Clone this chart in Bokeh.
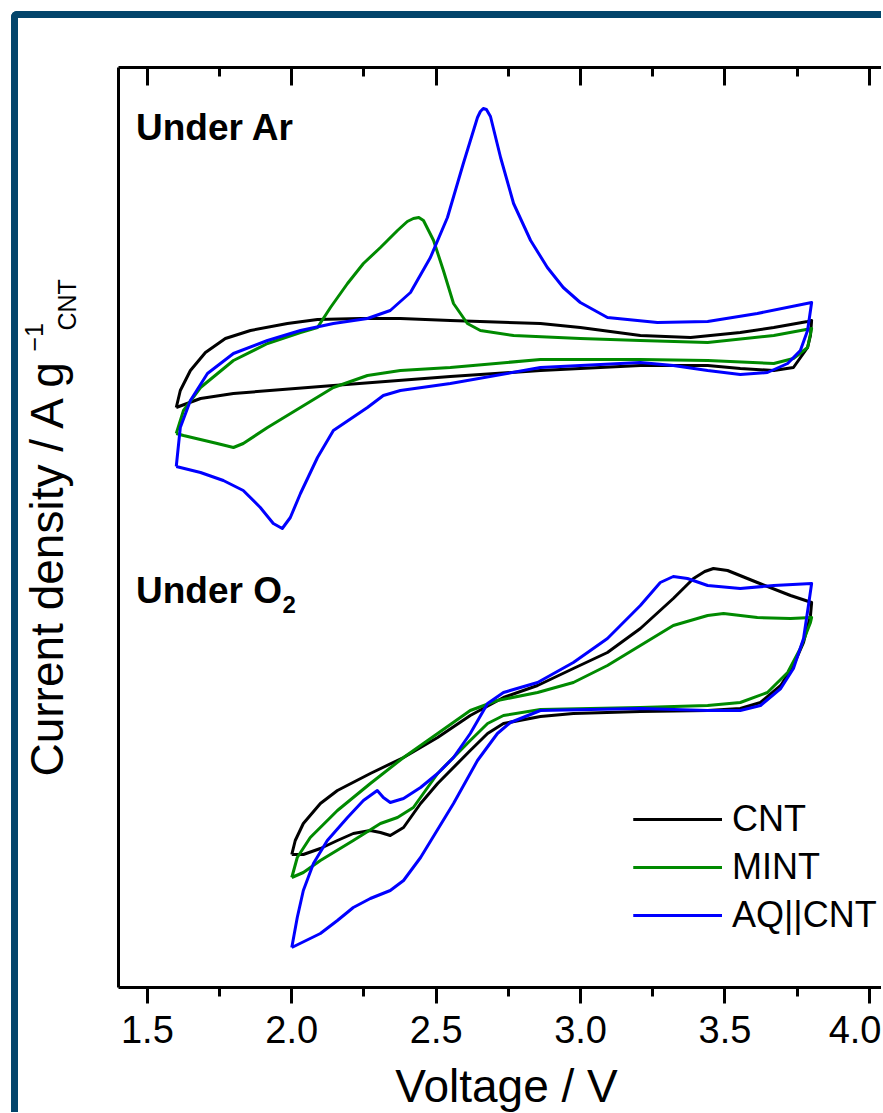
from bokeh.plotting import figure
from bokeh.models import (Label, LinearAxis, FixedTicker, Range1d, Legend, LegendItem,
                          NumeralTickFormatter, CustomJSTickFormatter)
from bokeh.embed import file_html
from bokeh.resources import INLINE

FONT = "Liberation Sans"

# ---- data: voltage (V) and current density (arbitrary units) ----
# Under Ar
ar_cnt_v = [1.60, 1.614, 1.649, 1.701, 1.770, 1.857, 1.985, 2.089, 2.238, 2.376, 2.549, 2.861, 2.999,
            3.207, 3.381, 3.553, 3.669, 3.786, 3.80,
            3.796, 3.786, 3.737, 3.669, 3.553, 3.440, 3.207, 2.999, 2.861, 2.549, 2.144, 1.798, 1.684, 1.60]
ar_cnt_i = [58.0, 59.7, 61.7, 63.5, 64.9, 65.7, 66.4, 66.8, 66.9, 66.9, 66.7, 66.4, 66.0,
            65.2, 65.0, 65.5, 66.0, 66.6, 66.7,
            65.2, 64.0, 62.0, 61.7, 61.9, 62.2, 62.2, 61.9, 61.7, 61.1, 60.2, 59.4, 58.9, 58.0]

ar_mint_v = [1.60, 1.625, 1.684, 1.798, 1.916, 2.030, 2.089, 2.134, 2.193, 2.248, 2.307, 2.366, 2.400,
             2.421, 2.440, 2.456, 2.491, 2.525, 2.560, 2.608, 2.653, 2.768, 2.999, 3.207, 3.440,
             3.669, 3.80,
             3.786, 3.737, 3.669, 3.440, 3.207, 2.861, 2.549, 2.376, 2.262, 2.144, 2.030, 1.916,
             1.832, 1.798, 1.742, 1.625, 1.60]
ar_mint_i = [55.4, 57.7, 60.0, 62.7, 64.4, 65.5, 66.0, 68.0, 70.4, 72.4, 74.0, 75.7, 76.6,
             76.9, 77.0, 76.7, 74.7, 71.7, 68.4, 66.4, 65.7, 65.2, 64.9, 64.7, 64.5,
             65.2, 65.9,
             64.0, 62.9, 62.4, 62.7, 62.8, 62.8, 62.0, 61.7, 61.2, 60.0, 58.0, 56.0,
             54.4, 54.0, 54.4, 55.2, 55.4]

ar_aq_v = [1.60, 1.614, 1.649, 1.708, 1.798, 1.916, 2.030, 2.144, 2.262, 2.341, 2.411, 2.480, 2.539,
           2.594, 2.643, 2.653, 2.663, 2.674, 2.688, 2.723, 2.768, 2.827, 2.885, 2.940, 2.999,
           3.093, 3.266, 3.440, 3.612, 3.80,
           3.786, 3.761, 3.717, 3.647, 3.553, 3.440, 3.321, 3.207, 2.861, 2.549, 2.376, 2.317,
           2.262, 2.144, 2.089, 2.030, 1.995, 1.967, 1.936, 1.891, 1.832, 1.763, 1.684, 1.60]
ar_aq_i = [52.1, 56.0, 58.7, 61.4, 63.4, 64.7, 65.7, 66.4, 66.9, 67.7, 69.5, 73.0, 77.0,
           82.4, 87.0, 87.6, 87.9, 87.8, 87.1, 83.0, 78.4, 74.7, 72.0, 70.0, 68.5,
           67.0, 66.5, 66.6, 67.4, 68.5,
           65.7, 63.7, 62.4, 61.5, 61.3, 61.7, 62.2, 62.5, 62.0, 60.4, 59.7, 59.2,
           58.0, 55.7, 53.0, 49.4, 47.0, 45.9, 46.4, 48.0, 49.7, 50.7, 51.5, 52.1]

# Under O2
o2_cnt_v = [2.00, 2.012, 2.040, 2.099, 2.158, 2.272, 2.387, 2.505, 2.618, 2.733, 2.851, 2.975, 3.093,
            3.207, 3.321, 3.391, 3.430, 3.460, 3.509, 3.612, 3.727, 3.80,
            3.796, 3.772, 3.737, 3.693, 3.623, 3.553, 3.440, 3.207, 2.975, 2.861, 2.733, 2.678,
            2.618, 2.505, 2.446, 2.387, 2.341, 2.307, 2.272, 2.213, 2.158, 2.099, 2.040, 2.00]
o2_cnt_i = [13.3, 14.7, 16.4, 18.4, 19.7, 21.4, 23.0, 25.0, 27.2, 29.0, 30.2, 31.9, 33.5,
            35.9, 38.9, 40.9, 41.6, 41.9, 41.7, 40.5, 39.2, 38.5,
            37.2, 34.5, 32.2, 30.2, 28.5, 27.9, 27.7, 27.6, 27.4, 27.1, 26.4, 25.4,
            23.7, 20.4, 18.4, 16.0, 15.2, 15.5, 15.7, 15.4, 14.7, 13.9, 13.3, 13.3]

o2_mint_v = [2.00, 2.019, 2.064, 2.158, 2.272, 2.387, 2.505, 2.618, 2.712, 2.851, 2.975, 3.093, 3.207,
             3.321, 3.440, 3.495, 3.612, 3.727, 3.80,
             3.796, 3.761, 3.717, 3.647, 3.553, 3.440, 3.207, 2.861, 2.733, 2.678, 2.618, 2.505,
             2.421, 2.366, 2.307, 2.213, 2.099, 2.040, 2.00]
o2_mint_i = [11.0, 13.0, 15.0, 17.7, 20.4, 23.0, 25.4, 27.7, 28.7, 29.5, 30.5, 32.2, 34.2,
             36.2, 37.2, 37.4, 37.0, 36.9, 37.0,
             36.5, 33.9, 31.5, 29.5, 28.5, 28.2, 28.0, 27.8, 27.2, 26.4, 24.7, 21.4,
             18.0, 17.0, 16.4, 14.7, 12.7, 11.5, 11.0]

o2_aq_v = [2.00, 2.019, 2.040, 2.075, 2.123, 2.193, 2.248, 2.296, 2.317, 2.341, 2.387, 2.446, 2.505,
           2.560, 2.618, 2.678, 2.733, 2.851, 2.975, 3.093, 3.207, 3.276, 3.321, 3.370, 3.440,
           3.553, 3.669, 3.80,
           3.789, 3.772, 3.737, 3.693, 3.623, 3.553, 3.440, 3.207, 2.861, 2.757, 2.712, 2.643,
           2.560, 2.446, 2.387, 2.341, 2.272, 2.213, 2.158, 2.099, 2.00]
o2_aq_i = [4.0, 7.0, 9.7, 12.4, 14.7, 17.0, 18.7, 19.7, 19.0, 18.5, 18.9, 20.0, 21.4,
           23.0, 25.4, 28.4, 29.5, 30.5, 32.5, 34.9, 38.2, 40.5, 41.1, 40.9, 40.2,
           39.9, 40.2, 40.4,
           38.2, 34.9, 31.9, 29.9, 28.2, 27.7, 27.7, 27.9, 27.7, 26.5, 25.4, 22.7,
           18.4, 13.0, 10.7, 9.7, 8.9, 8.0, 6.7, 5.4, 4.0]

series_names = ["CNT", "MINT", "AQ||CNT"]
series_colors = ["#000000", "#008a00", "#0000ff"]
x_major_ticks = [1.5, 2.0, 2.5, 3.0, 3.5, 4.0]
x_minor_ticks = [1.75, 2.25, 2.75, 3.25, 3.75]
x_axis_bounds = (1.4, 4.07)    # drawn axis extent (V)
y_axis_bounds = (0, 92)        # drawn axis extent (a.u.)

p = figure(width=870, height=1101, output_backend="svg", toolbar_location=None,
           x_range=Range1d(1.05374, 4.0662), y_range=Range1d(-13.2, 96.9),
           x_axis_location=None, y_axis_location=None,
           min_border_left=0, min_border_top=0, min_border_bottom=0, min_border_right=0)
p.outline_line_color = None
p.xgrid.visible = False
p.ygrid.visible = False
p.background_fill_color = "white"
p.border_fill_color = "white"
p.styles = {"border-left": "7px solid #03456b", "border-top": "7px solid #03456b",
            "border-top-left-radius": "6px", "margin-left": "11px", "margin-top": "11px"}

ticker = FixedTicker(ticks=x_major_ticks, minor_ticks=x_minor_ticks)
blank = CustomJSTickFormatter(code="return ''")

xb = LinearAxis(ticker=ticker, formatter=NumeralTickFormatter(format="0.0"),
                fixed_location=y_axis_bounds[0], bounds=x_axis_bounds,
                axis_line_width=3, major_tick_line_width=3, minor_tick_line_width=3,
                major_tick_out=16, major_tick_in=0, minor_tick_out=9, minor_tick_in=0,
                major_label_text_font=FONT, major_label_text_font_size="38px",
                major_label_text_color="black", major_label_standoff=12)
p.add_layout(xb, "below")

xt = LinearAxis(ticker=ticker, formatter=blank,
                fixed_location=y_axis_bounds[1], bounds=x_axis_bounds,
                axis_line_width=3, major_tick_line_width=3, minor_tick_line_width=3,
                major_tick_out=0, major_tick_in=18, minor_tick_out=0, minor_tick_in=9,
                major_label_text_font_size="1px")
p.add_layout(xt, "above")

yl = LinearAxis(ticker=FixedTicker(ticks=[]), formatter=blank,
                fixed_location=x_axis_bounds[0], bounds=y_axis_bounds, axis_line_width=3,
                major_tick_out=0, minor_tick_out=0, major_label_text_font_size="1px")
p.add_layout(yl, "left")

curves = [(ar_cnt_v, ar_cnt_i, o2_cnt_v, o2_cnt_i),
          (ar_mint_v, ar_mint_i, o2_mint_v, o2_mint_i),
          (ar_aq_v, ar_aq_i, o2_aq_v, o2_aq_i)]
items = []
for name, color, (av, ai, ov, oi) in zip(series_names, series_colors, curves):
    r1 = p.line(av, ai, line_color=color, line_width=3, line_join="round")
    r2 = p.line(ov, oi, line_color=color, line_width=3, line_join="round")
    items.append(LegendItem(label=name, renderers=[r1, r2]))

legend = Legend(items=items, location=(615, 180), glyph_width=89, glyph_height=48,
                label_height=48, label_standoff=10, spacing=0, padding=0, margin=0,
                label_text_font=FONT, label_text_font_size="36px", label_text_color="black",
                border_line_color=None, background_fill_alpha=0)
p.add_layout(legend, "center")

# panel labels
p.add_layout(Label(x=1.4606, y=86.0, text="Under Ar", text_font=FONT, text_font_style="bold",
                   text_font_size="37px", text_baseline="alphabetic", text_color="black"))
p.add_layout(Label(x=1.4606, y=39.7, text="Under O", text_font=FONT, text_font_style="bold",
                   text_font_size="37px", text_baseline="alphabetic", text_color="black"))
p.add_layout(Label(x=1.968, y=38.3, text="2", text_font=FONT, text_font_style="bold",
                   text_font_size="24px", text_baseline="alphabetic", text_color="black"))

# axis titles
p.add_layout(Label(x=2.7435, y=-9.8, text="Voltage / V", text_font=FONT, text_font_size="46px",
                   text_align="center", text_baseline="alphabetic", text_color="black"))
p.add_layout(Label(x=1.1507, y=21.1, angle=1.5707963, text="Current density / A g",
                   text_font=FONT, text_font_size="46px", text_baseline="alphabetic",
                   text_color="black"))
p.add_layout(Label(x=1.1065, y=63.6, angle=1.5707963, text="\u22121",
                   text_font=FONT, text_font_size="25px", text_baseline="alphabetic",
                   text_color="black"))
p.add_layout(Label(x=1.2208, y=65.7, angle=1.5707963, text="CNT",
                   text_font=FONT, text_font_size="25px", text_baseline="alphabetic",
                   text_color="black"))

open("out.html", "w").write(file_html(p, INLINE))
